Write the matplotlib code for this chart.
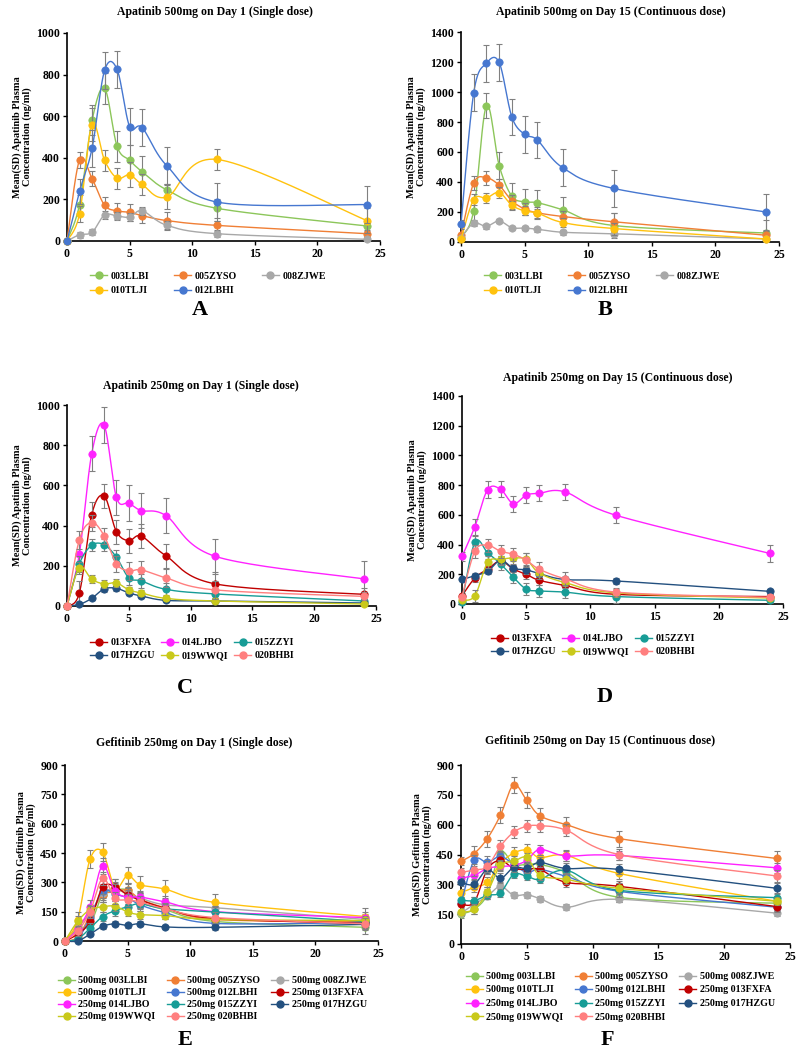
import numpy as np
import matplotlib
matplotlib.use("Agg")
import matplotlib.pyplot as plt
from matplotlib.lines import Line2D

plt.rcParams['font.family'] = ['Liberation Serif', 'DejaVu Serif']
plt.rcParams['font.weight'] = 'bold'

# sampling times (h)
hours = [0, 1, 2, 3, 4, 5, 6, 8, 12, 24]

# ---- Apatinib 500mg ----
a_names = ['003LLBI', '005ZYSO', '008ZJWE', '010TLJI', '012LBHI']
a_conc = [[0, 175, 580, 735, 455, 388, 333, 245, 157, 72],
          [0, 390, 300, 172, 145, 138, 122, 98, 75, 35],
          [0, 30, 42, 125, 120, 115, 145, 75, 35, 8],
          [0, 130, 560, 388, 302, 318, 272, 212, 392, 97],
          [0, 238, 445, 820, 825, 550, 545, 360, 187, 175]]
a_sd = [[0, 45, 72, 75, 75, 75, 75, 30, 45, 20],
        [0, 40, 35, 40, 40, 40, 35, 40, 20, 15],
        [0, 15, 15, 20, 20, 20, 20, 20, 15, 10],
        [0, 40, 80, 50, 50, 60, 50, 60, 50, 60],
        [0, 60, 90, 88, 88, 88, 88, 90, 90, 88]]

b_conc = [[30, 210, 910, 510, 305, 268, 262, 215, 110, 60],
          [45, 393, 428, 378, 275, 220, 195, 170, 135, 45],
          [30, 125, 105, 140, 95, 93, 85, 65, 55, 20],
          [20, 283, 293, 330, 245, 207, 193, 130, 90, 20],
          [120, 995, 1192, 1197, 833, 717, 680, 495, 357, 200]]
b_sd = [[10, 60, 85, 88, 88, 88, 85, 85, 85, 85],
        [10, 45, 45, 45, 40, 40, 40, 40, 60, 30],
        [5, 15, 15, 15, 15, 15, 15, 15, 15, 10],
        [5, 35, 35, 35, 30, 30, 30, 30, 40, 15],
        [30, 122, 122, 122, 122, 122, 122, 122, 122, 122]]

# ---- Apatinib 250mg ----
c_names = ['013FXFA', '014LJBO', '015ZZYI', '017HZGU', '019WWQI', '020BHBI']
c_conc = [[0, 65, 455, 548, 370, 325, 348, 250, 110, 58],
          [0, 260, 758, 900, 540, 512, 475, 450, 247, 135],
          [0, 210, 302, 305, 243, 140, 125, 83, 60, 25],
          [0, 8, 38, 85, 88, 65, 50, 28, 25, 15],
          [0, 190, 133, 110, 115, 80, 65, 38, 25, 10],
          [0, 330, 415, 350, 210, 175, 180, 140, 80, 48]]
c_sd = [[0, 60, 60, 60, 60, 60, 60, 60, 60, 30],
        [0, 60, 88, 88, 88, 88, 88, 88, 88, 88],
        [0, 40, 30, 30, 35, 35, 35, 30, 20, 10],
        [0, 5, 10, 15, 15, 10, 10, 8, 8, 5],
        [0, 30, 20, 20, 20, 15, 15, 10, 10, 5],
        [0, 45, 40, 40, 40, 45, 45, 45, 45, 20]]

d_conc = [[55, 175, 235, 290, 235, 200, 160, 125, 65, 50],
          [320, 520, 770, 772, 675, 733, 745, 755, 597, 340],
          [15, 415, 345, 270, 180, 100, 88, 80, 50, 25],
          [165, 190, 220, 295, 240, 230, 205, 165, 155, 85],
          [25, 55, 280, 300, 310, 300, 210, 145, 75, 40],
          [50, 355, 395, 355, 335, 295, 235, 170, 80, 45]]
d_sd = [[20, 25, 25, 30, 30, 30, 30, 30, 20, 15],
        [30, 55, 55, 55, 55, 55, 55, 55, 55, 55],
        [10, 40, 40, 40, 40, 40, 40, 40, 40, 15],
        [20, 20, 20, 25, 25, 25, 25, 20, 20, 15],
        [10, 40, 40, 40, 40, 40, 40, 40, 25, 15],
        [15, 45, 45, 45, 45, 45, 45, 45, 25, 20]]

# ---- Gefitinib 250mg (all patients) ----
e_names = ['500mg 003LLBI', '500mg 005ZYSO', '500mg 008ZJWE', '500mg 010TLJI',
           '500mg 012LBHI', '250mg 013FXFA', '250mg 014LJBO', '250mg 015ZZYI',
           '250mg 017HZGU', '250mg 019WWQI', '250mg 020BHBI']
e_conc = [[0, 60, 85, 235, 260, 260, 200, 160, 100, 70],
          [0, 20, 130, 235, 250, 260, 215, 170, 110, 100],
          [0, 75, 140, 245, 265, 240, 220, 185, 170, 110],
          [0, 105, 418, 455, 270, 335, 288, 265, 197, 125],
          [0, 10, 120, 255, 240, 220, 185, 145, 90, 95],
          [0, 35, 100, 275, 278, 235, 210, 168, 115, 90],
          [0, 60, 175, 385, 255, 225, 225, 200, 150, 120],
          [0, 10, 65, 125, 155, 175, 190, 165, 148, 100],
          [0, 0, 35, 75, 88, 80, 88, 72, 70, 85],
          [0, 100, 160, 175, 178, 148, 135, 130, 110, 105],
          [0, 50, 150, 320, 220, 210, 200, 165, 120, 88]]
e_sd = [[0, 25, 30, 35, 35, 35, 30, 30, 30, 35],
        [0, 20, 30, 35, 35, 35, 30, 30, 30, 30],
        [0, 30, 35, 35, 35, 35, 30, 30, 30, 30],
        [0, 45, 45, 45, 45, 45, 45, 45, 45, 45],
        [0, 10, 30, 35, 35, 30, 30, 30, 25, 30],
        [0, 20, 30, 35, 40, 35, 30, 30, 30, 30],
        [0, 25, 35, 40, 35, 35, 30, 30, 30, 30],
        [0, 10, 25, 25, 25, 25, 25, 25, 25, 25],
        [0, 5, 10, 12, 12, 12, 12, 12, 12, 15],
        [0, 30, 25, 25, 25, 20, 20, 20, 20, 25],
        [0, 25, 30, 35, 30, 30, 30, 30, 30, 30]]

f_conc = [[150, 175, 250, 460, 400, 400, 400, 360, 235, 205],
          [415, 455, 530, 648, 800, 722, 645, 600, 530, 430],
          [155, 200, 240, 290, 245, 248, 228, 185, 225, 155],
          [258, 285, 310, 405, 457, 472, 435, 445, 355, 215],
          [205, 420, 410, 440, 400, 360, 375, 340, 265, 185],
          [200, 210, 375, 420, 380, 375, 375, 310, 290, 188],
          [332, 345, 380, 390, 395, 420, 475, 443, 445, 383],
          [220, 218, 245, 258, 350, 340, 325, 370, 270, 233],
          [310, 300, 375, 330, 385, 380, 410, 380, 375, 280],
          [160, 175, 260, 395, 415, 435, 345, 325, 280, 215],
          [360, 372, 390, 492, 562, 592, 595, 572, 450, 342]]
f_sd = [[20, 25, 25, 25, 25, 25, 25, 25, 25, 20],
        [20, 40, 40, 42, 42, 40, 40, 40, 40, 40],
        [15, 15, 15, 20, 15, 15, 15, 15, 15, 15],
        [20, 25, 25, 30, 30, 30, 30, 30, 30, 25],
        [20, 30, 30, 30, 30, 30, 30, 30, 30, 25],
        [20, 25, 25, 30, 30, 30, 30, 25, 25, 20],
        [20, 25, 25, 25, 25, 25, 25, 25, 25, 25],
        [15, 20, 20, 20, 20, 20, 20, 20, 20, 20],
        [20, 25, 25, 25, 25, 25, 25, 25, 25, 25],
        [15, 25, 25, 25, 25, 25, 25, 25, 25, 20],
        [20, 30, 30, 30, 30, 30, 30, 30, 30, 30]]

colors = {'003LLBI': '#8CC65A', '005ZYSO': '#F07F35', '008ZJWE': '#A8A8A8',
          '010TLJI': '#FFC20E', '012LBHI': '#4677D0', '013FXFA': '#C00000',
          '014LJBO': '#FF22FF', '015ZZYI': '#179C96', '017HZGU': '#23507F',
          '019WWQI': '#C9C91A', '020BHBI': '#FF7F7F'}


def smooth(x, y, n=24):
    # Excel-like smoothed line (Catmull-Rom as cubic Bezier)
    pts = np.column_stack([x, y]).astype(float)
    out = [pts[0]]
    t = np.linspace(0, 1, n)[1:, None]
    for i in range(len(pts) - 1):
        p0 = pts[i - 1] if i > 0 else pts[i]
        p1, p2 = pts[i], pts[i + 1]
        p3 = pts[i + 2] if i + 2 < len(pts) else pts[i + 1]
        c1 = p1 + (p2 - p0) / 6
        c2 = p2 - (p3 - p1) / 6
        seg = (1 - t)**3 * p1 + 3 * (1 - t)**2 * t * c1 + 3 * (1 - t) * t**2 * c2 + t**3 * p2
        out.extend(seg)
    return np.array(out)


def draw_panel(rect, names, conc, sd, ymax, ystep, drug):
    ax = fig.add_axes(rect)
    for i, (nm, y, e) in enumerate(zip(names, conc, sd)):
        col = colors[nm.split()[-1]]
        s = smooth(hours, y)
        ax.plot(s[:, 0], s[:, 1], color=col, lw=1.0, zorder=2 + 3 * i, clip_on=False)
        ax.errorbar(hours, y, yerr=e, fmt='none', ecolor='#808080', elinewidth=0.8,
                    capsize=2, capthick=0.8, zorder=3 + 3 * i)
        ax.plot(hours, y, 'o', color=col, ms=5.3, mec=col, mew=0.5, zorder=4 + 3 * i,
                clip_on=False)
    ax.set_xlim(0, 25)
    ax.set_ylim(0, ymax)
    ax.set_xticks(range(0, 26, 5))
    ax.set_yticks(np.arange(0, ymax + 1, ystep))
    for sp in ['top', 'right']:
        ax.spines[sp].set_visible(False)
    for sp in ['left', 'bottom']:
        ax.spines[sp].set_linewidth(1.2)
    ax.tick_params(labelsize=8.5, width=1, length=3, pad=2)
    for lb in ax.get_xticklabels() + ax.get_yticklabels():
        lb.set_fontweight('bold')
    ax.set_ylabel('Mean(SD) %s Plasma\nConcentration (ng/ml)' % drug, fontsize=7.5,
                  fontweight='bold', labelpad=3, linespacing=1.1)
    return ax


def add_legend(names, x, y, ncol, cs, ls=0.3):
    handles = [Line2D([], [], color=colors[nm.split()[-1]], lw=1.0, marker='o', ms=5)
               for nm in names]
    order = [k for c in range(ncol) for k in range(c, len(names), ncol)]
    fig.legend([handles[k] for k in order], [names[k] for k in order],
               loc='upper left', bbox_to_anchor=(x / 800, 1 - y / 1050), ncol=ncol,
               frameon=False, borderpad=0, borderaxespad=0, handlelength=1.7,
               handletextpad=0.35, columnspacing=cs, labelspacing=ls,
               prop={'weight': 'bold', 'size': 7.2})


fig = plt.figure(figsize=(8, 10.5), dpi=100)

draw_panel([67 / 800, 1 - 241 / 1050, 313 / 800, 208 / 1050], a_names, a_conc, a_sd,
           1000, 200, 'Apatinib')
draw_panel([461 / 800, 1 - 242 / 1050, 318 / 800, 210 / 1050], a_names, b_conc, b_sd,
           1400, 200, 'Apatinib')
draw_panel([67 / 800, 1 - 606 / 1050, 309 / 800, 201 / 1050], c_names, c_conc, c_sd,
           1000, 200, 'Apatinib')
draw_panel([462 / 800, 1 - 604 / 1050, 321 / 800, 208 / 1050], c_names, d_conc, d_sd,
           1400, 200, 'Apatinib')
draw_panel([65 / 800, 1 - 941 / 1050, 313 / 800, 176 / 1050], e_names, e_conc, e_sd,
           900, 150, 'Gefitinib')
draw_panel([461 / 800, 1 - 944 / 1050, 329 / 800, 179 / 1050], e_names, f_conc, f_sd,
           900, 150, 'Gefitinib')

titles = [('Apatinib 500mg on Day 1 (Single dose)', 215, 12),
          ('Apatinib 500mg on Day 15 (Continuous dose)', 611, 12),
          ('Apatinib 250mg on Day 1 (Single dose)', 201, 386),
          ('Apatinib 250mg on Day 15 (Continuous dose)', 618, 378),
          ('Gefitinib 250mg on Day 1 (Single dose)', 194, 743),
          ('Gefitinib 250mg on Day 15 (Continuous dose)', 600, 741)]
for txt, x, y in titles:
    fig.text(x / 800, 1 - y / 1050, txt, ha='center', va='center', fontsize=8.5,
             fontweight='bold')

letters = [('A', 200, 310), ('B', 605, 310), ('C', 185, 688), ('D', 605, 697),
           ('E', 185, 1040), ('F', 607, 1040)]
for txt, x, y in letters:
    fig.text(x / 800, 1 - y / 1050, txt, ha='center', va='center', fontsize=16,
             fontweight='bold')

add_legend(a_names, 90, 272, 3, 2.5, ls=0.55)
add_legend(a_names, 484, 272, 3, 2.5, ls=0.55)
add_legend(c_names, 90, 638, 3, 0.6, ls=0.45)
add_legend(c_names, 491, 634, 3, 0.6, ls=0.45)
add_legend(e_names, 58, 976, 3, 1.1)
add_legend(e_names, 466, 972, 3, 1.1, ls=0.45)

fig.savefig('out.png', dpi=100)
